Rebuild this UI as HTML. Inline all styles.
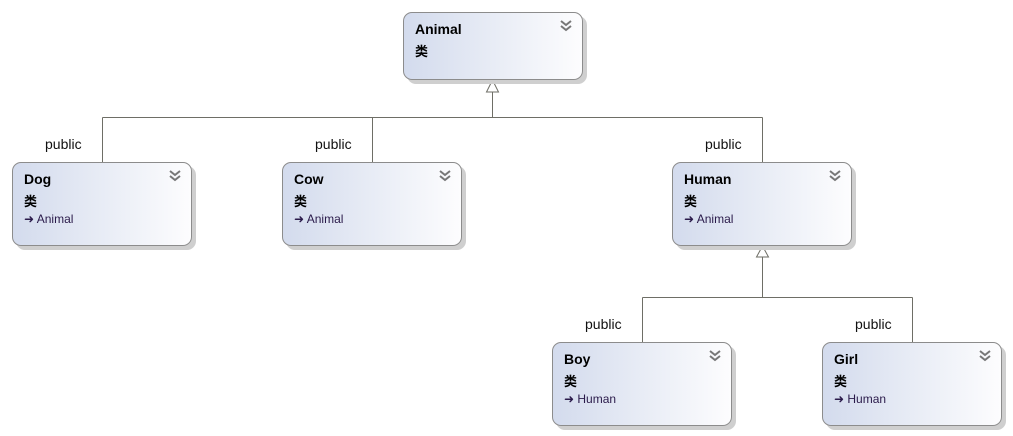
<!DOCTYPE html>
<html><head><meta charset="utf-8"><style>
body{margin:0;width:1013px;height:436px;background:#fff;overflow:hidden;position:relative;font-family:"Segoe UI","Liberation Sans","Noto Sans CJK SC",sans-serif}
.b{position:absolute;width:180px;border:1px solid #8c8c8c;border-radius:9px;background:linear-gradient(to right,#d3dbed,#fdfdfe);box-shadow:4px 4px 0 #cfcfcf;box-sizing:border-box}
.t{position:absolute;left:11px;top:8px;font-weight:bold;font-size:14px;color:#000}
.k{position:absolute;left:11px;top:28px;font-weight:bold;font-size:13px;color:#000;font-family:"Noto Sans CJK SC",sans-serif}
.p{position:absolute;left:11px;top:49px;font-size:12px;color:#2a1a4a}
.c{position:absolute;right:10px;top:7px}
.l{position:absolute;font-size:14px;color:#111}
</style></head><body>
<svg width="1013" height="436" style="position:absolute;left:0;top:0">
<g stroke="#6e6e66" stroke-width="1" fill="none">
<path d="M492.5 92V117.5M102.5 117.5H762.5M102.5 117.5V162M372.5 117.5V162M762.5 117.5V162"/>
<path d="M762.5 257V297.5M642.5 297.5H912.5M642.5 297.5V342M912.5 297.5V342"/>
<path d="M492.5 80L486.5 92H498.5Z" fill="#fff"/>
<path d="M762.5 246L756.5 257H768.5Z" fill="#fff"/>
</g></svg>
<div class="l" style="left:45px;top:136px">public</div>
<div class="l" style="left:315px;top:136px">public</div>
<div class="l" style="left:705px;top:136px">public</div>
<div class="l" style="left:585px;top:316px">public</div>
<div class="l" style="left:855px;top:316px">public</div>

<div class="b" style="left:403px;top:12px;height:68px"><div class="t">Animal</div><div class="k">类</div><svg class="c" width="12" height="12"><path d="M1 1l5 4 5-4M1 6l5 4 5-4" stroke="#777" stroke-width="2" fill="none"/></svg></div>

<div class="b" style="left:12px;top:162px;height:84px"><div class="t">Dog</div><div class="k">类</div><div class="p">➜ Animal</div><svg class="c" width="12" height="12"><path d="M1 1l5 4 5-4M1 6l5 4 5-4" stroke="#777" stroke-width="2" fill="none"/></svg></div>
<div class="b" style="left:282px;top:162px;height:84px"><div class="t">Cow</div><div class="k">类</div><div class="p">➜ Animal</div><svg class="c" width="12" height="12"><path d="M1 1l5 4 5-4M1 6l5 4 5-4" stroke="#777" stroke-width="2" fill="none"/></svg></div>
<div class="b" style="left:672px;top:162px;height:84px"><div class="t">Human</div><div class="k">类</div><div class="p">➜ Animal</div><svg class="c" width="12" height="12"><path d="M1 1l5 4 5-4M1 6l5 4 5-4" stroke="#777" stroke-width="2" fill="none"/></svg></div>
<div class="b" style="left:552px;top:342px;height:84px"><div class="t">Boy</div><div class="k">类</div><div class="p">➜ Human</div><svg class="c" width="12" height="12"><path d="M1 1l5 4 5-4M1 6l5 4 5-4" stroke="#777" stroke-width="2" fill="none"/></svg></div>
<div class="b" style="left:822px;top:342px;height:84px"><div class="t">Girl</div><div class="k">类</div><div class="p">➜ Human</div><svg class="c" width="12" height="12"><path d="M1 1l5 4 5-4M1 6l5 4 5-4" stroke="#777" stroke-width="2" fill="none"/></svg></div>
</body></html>
